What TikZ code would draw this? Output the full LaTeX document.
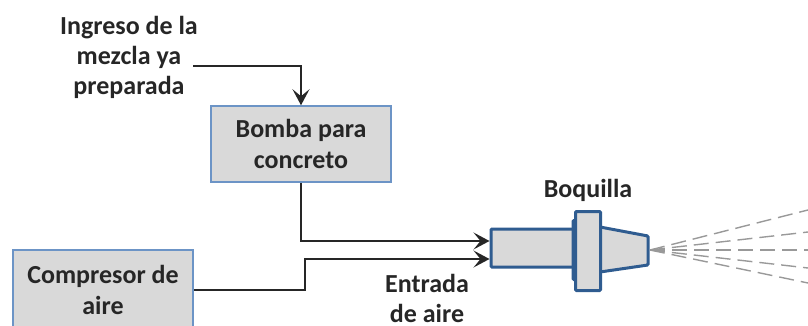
\documentclass[tikz,border=0pt]{standalone}
\usepackage{fontspec}
\setmainfont{Carlito}
\usetikzlibrary{arrows.meta}
\definecolor{boxline}{HTML}{6C94C6}
\definecolor{boxfill}{HTML}{D9D9D9}
\definecolor{nozzleline}{HTML}{2F5C90}
\tikzset{
  caja/.style={draw=boxline,fill=boxfill,line width=1.5pt,inner sep=0pt,align=center,
    font=\fontsize{26}{31}\selectfont\bfseries,text=black!85},
  rotulo/.style={inner sep=0pt,align=center,font=\fontsize{26}{30}\selectfont\bfseries,text=black!85},
  pieza/.style={draw=nozzleline,fill=boxfill,line width=3pt,inner sep=0pt,rounded corners=1pt},
  flujo/.style={draw=black!85,line width=1.6pt,-{Stealth[length=16pt,width=17pt,inset=7pt]}},
  chorro/.style={draw=black!40,line width=1.4pt,dash pattern=on 15pt off 7pt}
}
\begin{document}
\begin{tikzpicture}[x=1pt,y=-1pt]
  \path[use as bounding box,clip] (0,0) rectangle (808,326);

  \node[rotulo] (mezcla) at (129,57) {Ingreso de la\\mezcla ya\\preparada};
  \node[rotulo] (boquilla) at (588,190) {Boquilla};
  \node[rotulo] (entrada) at (427,298) {Entrada\\de aire};

  \begin{scope}[every node/.append style={caja}]
    \node[minimum width=180pt,minimum height=76pt] (bomba) at (301,144) {Bomba para\\concreto};
    \node[minimum width=180pt,minimum height=80pt] (compresor) at (103,290) {Compresor de\\aire};
  \end{scope}

  % boquilla
  \node[pieza,minimum width=88pt,minimum height=38pt] (cuerpo) at (535,248) {};
  \draw[pieza] (600,227) -- (648,236) -- (648,265) -- (600,272) -- cycle;
  \node[pieza,minimum width=4pt,minimum height=59pt] (collar) at (575,250) {};
  \node[pieza,minimum width=25pt,minimum height=79pt] (brida) at (588,251) {};

  % flechas
  \coordinate (inicio) at (193,66);
  \draw[flujo] (inicio) -| (bomba.north);
  \draw[flujo] (bomba.south) |- ([yshift=7pt]cuerpo.west);
  \draw[flujo] (compresor.east) -- ++(111,0) |- ([yshift=-11pt]cuerpo.west);

  % chorro
  \coordinate (salida) at (650,250);
  \foreach \y/\n in {210/a,232/b,250/c,268/d,283/e} {
    \coordinate (fin\n) at (808,\y);
    \draw[chorro] (salida) -- (fin\n);
  }
\end{tikzpicture}
\end{document}
